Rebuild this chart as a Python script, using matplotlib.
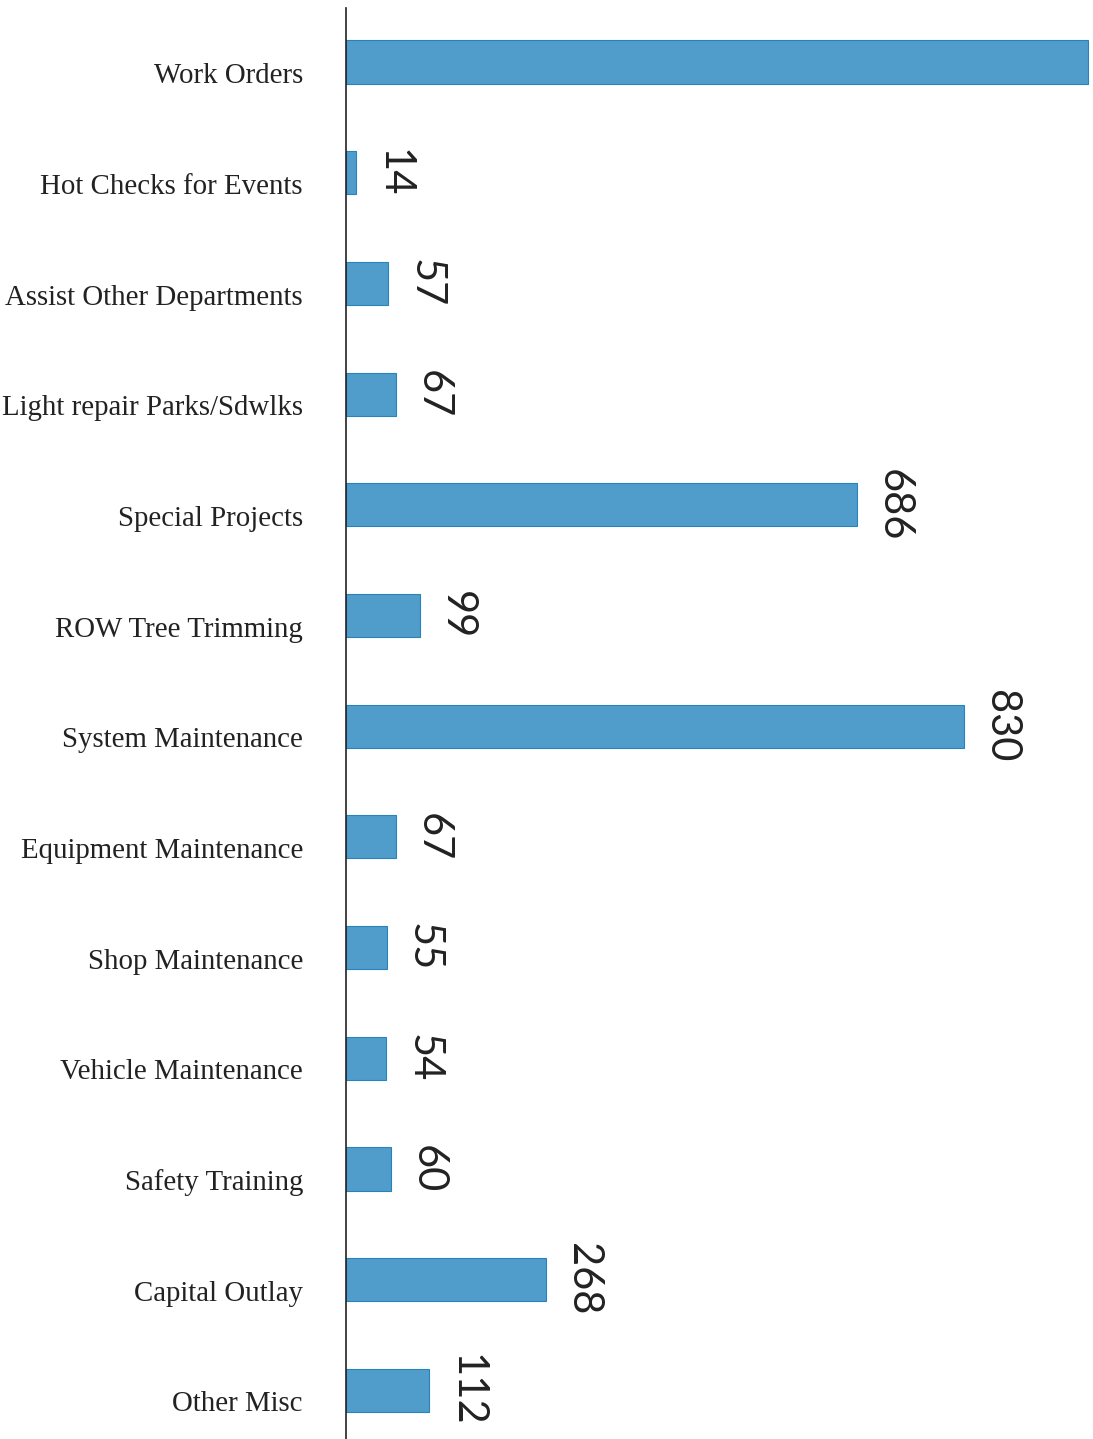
import numpy as np
import matplotlib.pyplot as plt

categories = ['Work Orders', 'Hot Checks for Events', 'Assist Other Departments',
              'Light repair Parks/Sdwlks', 'Special Projects', 'ROW Tree Trimming',
              'System Maintenance', 'Equipment Maintenance', 'Shop Maintenance',
              'Vehicle Maintenance', 'Safety Training', 'Capital Outlay', 'Other Misc']
# first bar runs off the page in the scan, its value is an estimate
values = [996, 14, 57, 67, 686, 99, 830, 67, 55, 54, 60, 268, 112]
x_max = 1003

fig = plt.figure(figsize=(10.93, 14.39), dpi=100)
ax = fig.add_axes([0.3166, 0.0, 0.6834, 0.9944])

y_pos = np.arange(len(categories))
ax.barh(y_pos, values, height=0.39, color='#509dcc', edgecolor='#2a82bb', linewidth=0.8)

for y, v in zip(y_pos, values):
    if v > 0.9 * x_max:
        continue  # label is off the page in the original
    ax.annotate(str(v), xy=(v, y), xytext=(18, 0), textcoords='offset pixels',
                rotation=-90, ha='left', va='center', fontsize=30,
                family='Lato', color='#222222')

ax.set_xlim(0, x_max)
ax.set_ylim(12.44, -0.488)
ax.set_yticks(y_pos + 0.1)
ax.set_yticklabels(categories, family='Liberation Serif', fontsize=20.8, color='#222222')
ax.tick_params(axis='y', length=0, pad=31)
ax.set_xticks([])

for side in ['top', 'right', 'bottom']:
    ax.spines[side].set_visible(False)
ax.spines['left'].set_linewidth(1.2)
ax.spines['left'].set_color('#222222')

plt.savefig('out.png', dpi=100)
